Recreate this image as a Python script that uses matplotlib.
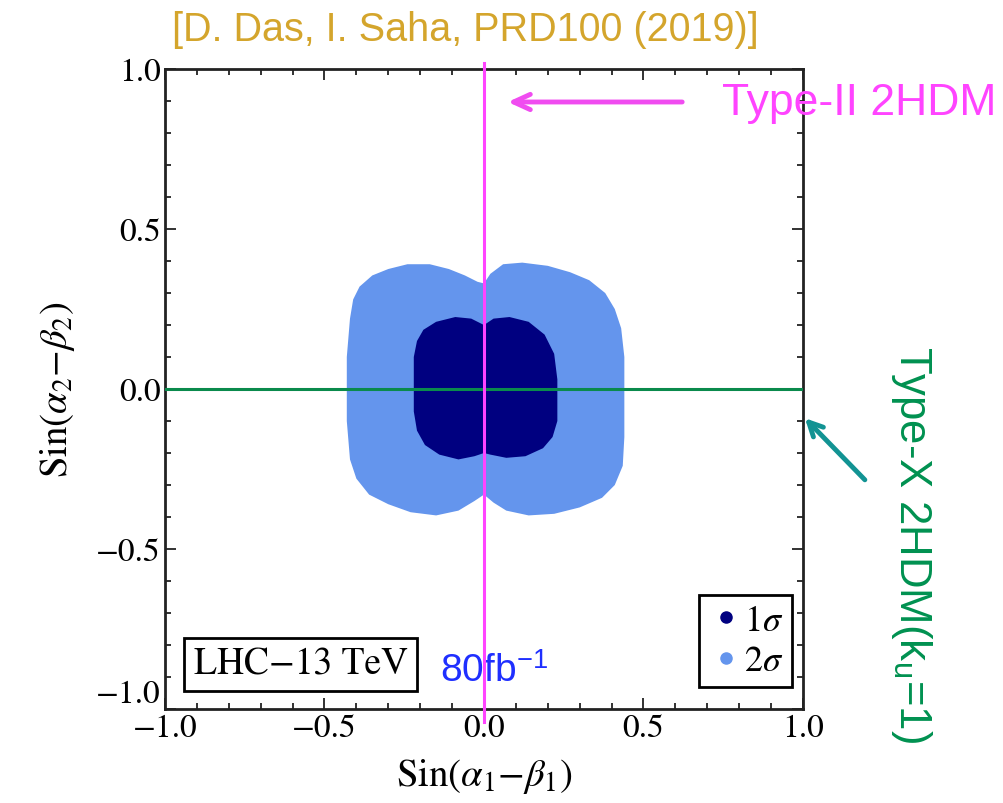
import matplotlib
matplotlib.use("Agg")
import matplotlib.pyplot as plt
from matplotlib.lines import Line2D

plt.rcParams["font.family"] = ["STIXGeneral", "DejaVu Serif"]
plt.rcParams["mathtext.fontset"] = "stix"

# outer edge of the 2 sigma points (x, y)
x_2sig = [-0.43, -0.42, -0.41, -0.39, -0.35, -0.30, -0.24, -0.17, -0.11, -0.06, -0.02, 0.0,
          0.02, 0.06, 0.12, 0.20, 0.27, 0.33, 0.38, 0.41, 0.43, 0.44, 0.44, 0.435, 0.41,
          0.37, 0.30, 0.22, 0.14, 0.07, 0.03, 0.0, -0.03, -0.08, -0.15, -0.23, -0.30, -0.36,
          -0.40, -0.42, -0.43]
y_2sig = [0.10, 0.22, 0.28, 0.32, 0.355, 0.375, 0.39, 0.39, 0.375, 0.355, 0.335, 0.33,
          0.36, 0.39, 0.395, 0.385, 0.365, 0.34, 0.30, 0.25, 0.19, 0.10, -0.15, -0.24, -0.30,
          -0.34, -0.37, -0.39, -0.395, -0.38, -0.355, -0.33, -0.35, -0.38, -0.395, -0.385,
          -0.36, -0.33, -0.28, -0.22, -0.10]

# outer edge of the 1 sigma points
x_1sig = [-0.22, -0.22, -0.21, -0.19, -0.15, -0.09, -0.04, 0.0, 0.03, 0.08, 0.14, 0.19,
          0.22, 0.23, 0.23, 0.215, 0.185, 0.13, 0.07, 0.02, 0.0, -0.03, -0.08, -0.14,
          -0.185, -0.21, -0.22]
y_1sig = [0.0, 0.10, 0.15, 0.185, 0.21, 0.225, 0.22, 0.20, 0.22, 0.225, 0.21, 0.17,
          0.11, 0.03, -0.10, -0.15, -0.185, -0.21, -0.215, -0.205, -0.20, -0.21, -0.22,
          -0.205, -0.175, -0.13, -0.07]

labels = ["1$\\sigma$", "2$\\sigma$"]
colors = ["#000080", "#6495ed"]

ticks = [-1.0, -0.5, 0.0, 0.5, 1.0]
tick_labels = ["\u22121.0", "\u22120.5", "0.0", "0.5", "1.0"]
minor = [-0.9, -0.8, -0.7, -0.6, -0.4, -0.3, -0.2, -0.1, 0.1, 0.2, 0.3, 0.4, 0.6, 0.7, 0.8, 0.9]

# model lines
type2_x = [0.0, 0.0]
type2_y = [-1.04, 1.02]
typex_x = [-1.0, 1.0]
typex_y = [0.0, 0.0]

fig = plt.figure(figsize=(10.04, 8.04), dpi=100)
ax = fig.add_axes([0.1643, 0.1169, 0.6355, 0.796])

ax.fill(x_2sig, y_2sig, color=colors[1], lw=0, zorder=1)
ax.fill(x_1sig, y_1sig, color=colors[0], lw=0, zorder=2)

ax.plot(typex_x, typex_y, color="#0a8a4c", lw=2.2, zorder=3)
ax.plot(type2_x, type2_y, color="#ff44ff", lw=2.2, zorder=4, clip_on=False)

ax.set_xlim(-1, 1)
ax.set_ylim(-1, 1)
ax.set_xticks(ticks)
ax.set_xticklabels(tick_labels)
ax.set_yticks(ticks)
ax.set_yticklabels(tick_labels)
ax.set_xticks(minor, minor=True)
ax.set_yticks(minor, minor=True)
ax.tick_params(which="both", direction="in", top=True, right=True, labelsize=24, width=1.3, color="#222222")
ax.tick_params(which="major", length=8, pad=3)
ax.tick_params(which="minor", length=4)
for s in ax.spines.values():
    s.set_linewidth(2)
    s.set_color("#222222")
# lowest y label sits just above the corner, as in the original
ax.get_yticklabels()[0].set_va("bottom")

ax.set_xlabel("Sin($\\alpha_1$\u2212$\\beta_1$)", fontsize=28, labelpad=10)
ax.set_ylabel("Sin($\\alpha_2$\u2212$\\beta_2$)", fontsize=28, labelpad=14)

handles = [Line2D([], [], ls="", marker="o", ms=8, color=c) for c in colors]
leg = ax.legend(handles, labels, loc="lower right", bbox_to_anchor=(0.983, 0.034), fontsize=26,
                handletextpad=0.0, handlelength=1.0, borderpad=0.25, labelspacing=0.2,
                borderaxespad=0, fancybox=False, framealpha=1, edgecolor="black")
leg.get_frame().set_linewidth(2)

ax.text(0.045, 0.055, "LHC\u221213 TeV", transform=ax.transAxes, fontsize=27,
        bbox=dict(boxstyle="square,pad=0.25", fc="white", ec="black", lw=2))
ax.text(-0.138, -0.912, "80fb$^{\\mathregular{-1}}$", color="#1f2fff", fontsize=28,
        family="Liberation Sans", va="baseline")

fig.text(465 / 1004, 1 - 30 / 804, "[D. Das, I. Saha, PRD100 (2019)]", color="#d4a52c",
         fontsize=28.5, family="Liberation Sans", ha="center", va="center")
fig.text(722 / 1004, 1 - 103 / 804, "Type-II 2HDM", color="#ff44ff", fontsize=32,
         family="Liberation Sans", ha="left", va="center")
fig.text(912 / 1004, 1 - 545 / 804, "Type-X 2HDM(k$_{\\mathregular{u}}$=1)", color="#009150",
         fontsize=31.5, family="Liberation Sans", ha="center", va="center", rotation=-90)

ax.annotate("", xy=(0.066, 0.897), xytext=(0.63, 0.897), annotation_clip=False,
            arrowprops=dict(arrowstyle="->,head_length=1.2,head_width=0.55", color="#f04cf0", lw=3.5))
ax.annotate("", xy=(1.0, -0.085), xytext=(1.20, -0.29), annotation_clip=False,
            arrowprops=dict(arrowstyle="->,head_length=1.0,head_width=0.5", color="#129393", lw=3.5))

fig.savefig("out.png", dpi=100)
